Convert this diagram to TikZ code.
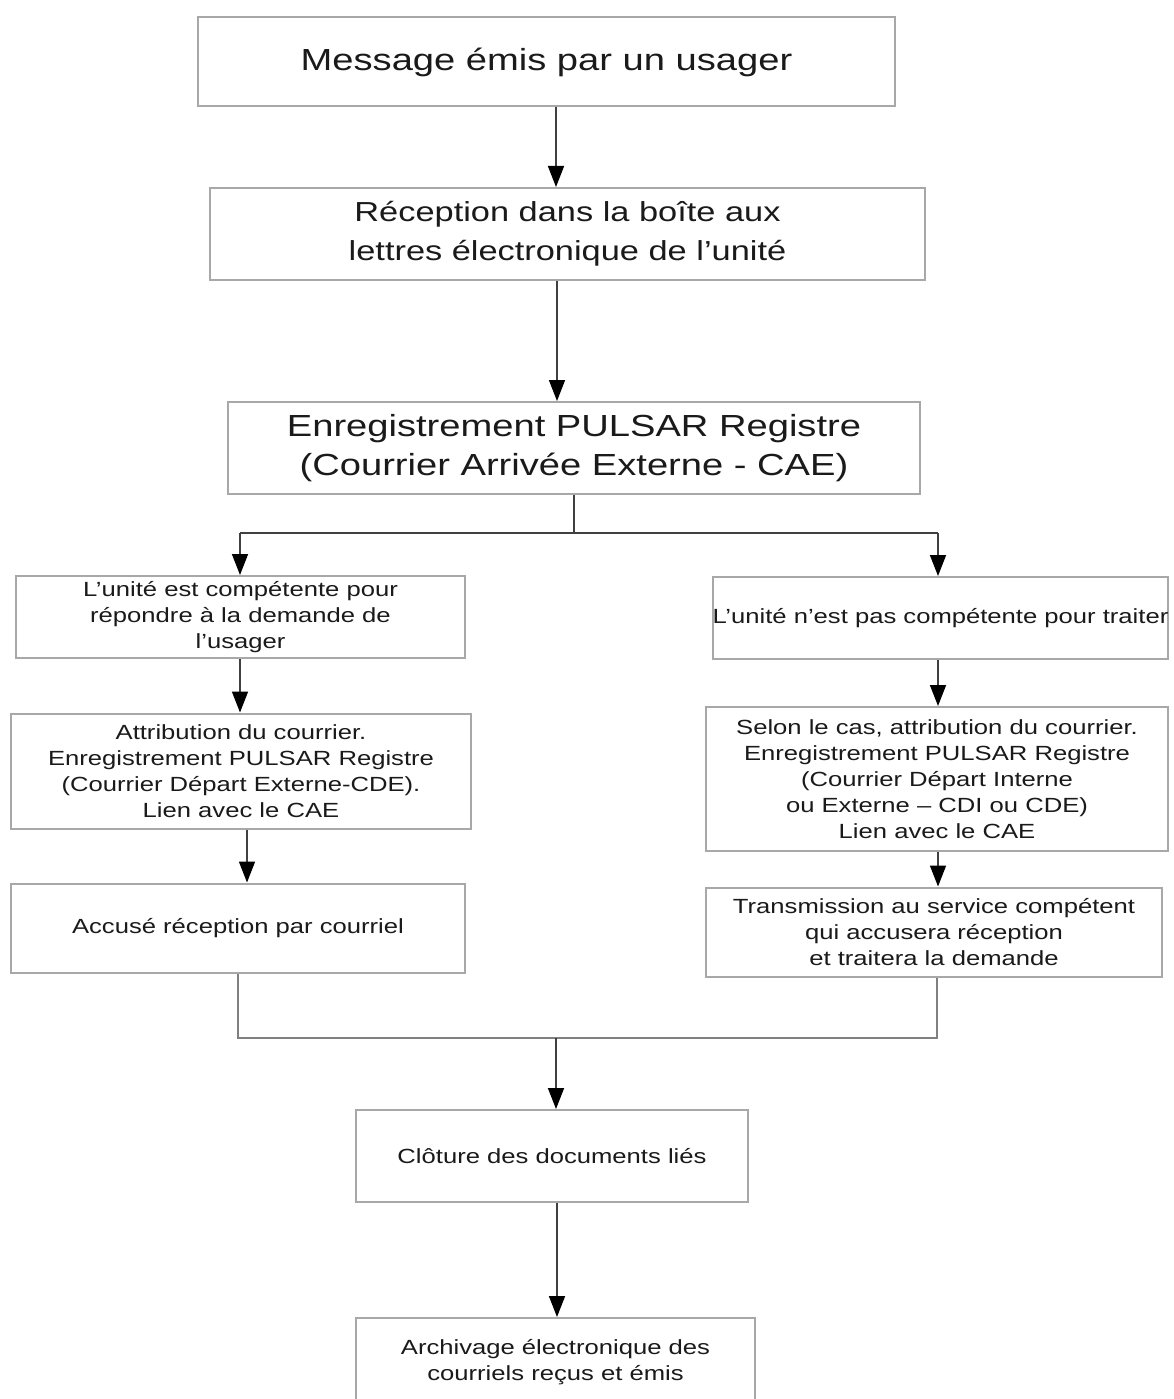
\documentclass[tikz,border=0pt]{standalone}
\usepackage{fontspec}
\setmainfont[FakeStretch=1.25]{Liberation Sans}
\usetikzlibrary{arrows.meta}
\definecolor{txt}{HTML}{1A1A1A}
\definecolor{bord}{HTML}{A8A8A8}
\definecolor{conn}{HTML}{404040}
\begin{document}
\begin{tikzpicture}[x=1pt,y=-1pt,
  box/.style={draw=bord,line width=2pt,fill=white,inner sep=0pt,align=center,text=txt},
  big/.style={font=\fontsize{30.5}{39}\selectfont},
  mid/.style={font=\fontsize{27.5}{39}\selectfont},
  small/.style={font=\fontsize{20.5}{26}\selectfont},
  conline/.style={draw=conn,line width=1.6pt},
  arr/.style={conline,-{Triangle[length=21pt,width=16pt,color=black,fill=black]}}]
\useasboundingbox[fill=white] (0,0) rectangle (1173,1399);

\node[box,big,minimum width=697,minimum height=89] (msg) at (546.5,62) {Message émis par un usager};
\node[box,mid,minimum width=715,minimum height=92] (rec) at (567.5,234) {Réception dans la boîte aux\\lettres électronique de l'unité};
\node[box,big,minimum width=692,minimum height=92] (enr) at (574,448) {Enregistrement PULSAR Registre\\(Courrier Arrivée Externe - CAE)};
\node[box,small,minimum width=449,minimum height=82] (l1) at (240.5,617) {L'unité est compétente pour\\répondre à la demande de\\l'usager};
\node[box,small,minimum width=455,minimum height=82] (r1) at (940.5,618) {L'unité n'est pas compétente pour traiter};
\node[box,small,minimum width=460,minimum height=115] (l2) at (241,771) {Attribution du courrier.\\Enregistrement PULSAR Registre\\(Courrier Départ Externe-CDE).\\Lien avec le CAE};
\node[box,small,minimum width=462,minimum height=144] (r2) at (937,779) {Selon le cas, attribution du courrier.\\Enregistrement PULSAR Registre\\(Courrier Départ Interne\\ou Externe -- CDI ou CDE)\\Lien avec le CAE};
\node[box,small,minimum width=454,minimum height=89] (l3) at (238,928) {Accusé réception par courriel};
\node[box,small,minimum width=456,minimum height=89] (r3) at (934,932) {Transmission au service compétent\\qui accusera réception\\et traitera la demande};
\node[box,small,minimum width=392,minimum height=92] (clo) at (552,1156) {Clôture des documents liés};
\node[box,small,minimum width=399,minimum height=88] (arc) at (555.5,1362) {Archivage électronique des\\courriels reçus et émis};

\coordinate (xa) at (556,0);
\coordinate (xb) at (557,0);
\coordinate (xc) at (247,0);
\coordinate (sp) at (574,533);
\coordinate (lft) at (240,533);
\coordinate (rgt) at (938,533);
\coordinate (ml) at (238,1038);
\coordinate (mr) at (937,1038);
\coordinate (mm) at (556,1038);

\draw[arr] (msg.south -| xa) -- (rec.north -| xa);
\draw[arr] (rec.south -| xb) -- (enr.north -| xb);
\draw[conline] (enr.south) -- (sp);
\draw[conline] (lft) -- (rgt);
\draw[arr] (lft) -- (l1.north -| lft);
\draw[arr] (rgt) -- (r1.north -| rgt);
\draw[arr] (l1.south -| lft) -- (l2.north -| lft);
\draw[arr] (l2.south -| xc) -- (l3.north -| xc);
\draw[arr] (r1.south -| rgt) -- (r2.north -| rgt);
\draw[arr] (r2.south -| rgt) -- (r3.north -| rgt);
\draw[conline,draw=gray] (l3.south -| ml) -- (ml) -- (mr) -- (r3.south -| mr);
\draw[arr] (mm) -- (clo.north -| mm);
\draw[arr] (clo.south -| xb) -- (arc.north -| xb);
\end{tikzpicture}
\end{document}
